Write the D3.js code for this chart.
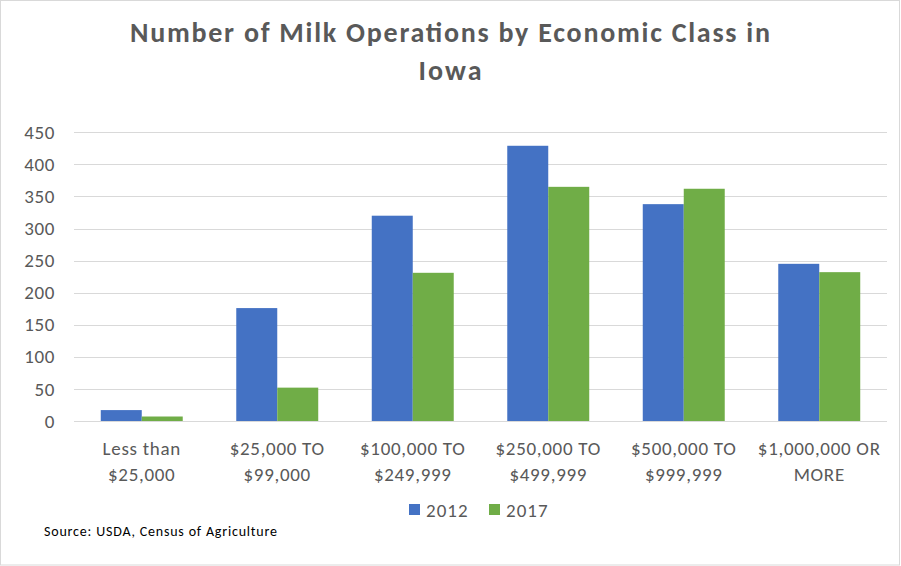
<!DOCTYPE html>
<html><head><meta charset="utf-8">
<script src="https://cdn.jsdelivr.net/npm/d3@7"></script>
<style>body{margin:0;background:#fff;} text{font-family:Carlito,Lato,"Open Sans",sans-serif;}</style>
</head><body><svg id="c" width="901" height="566"></svg>
<script>
const categories = [["Less than","$25,000"],["$25,000 TO","$99,000"],["$100,000 TO","$249,999"],["$250,000 TO","$499,999"],["$500,000 TO","$999,999"],["$1,000,000 OR","MORE"]];
const seriesNames = ["2012","2017"];
const values2012 = [17,176,320,429,338,245];
const values2017 = [7,52,231,365,362,232];
const yTicks = [0,50,100,150,200,250,300,350,400,450];
const colors = ["#4472C4","#70AD47"];

const svg = d3.select("#c");
svg.append("rect").attr("x",0.5).attr("y",0.5).attr("width",899).attr("height",564.5).attr("fill","#fff").attr("stroke","#d9d9d9");

const pLeft=74, pRight=887, pTop=132.3, pBottom=421;
const x0 = d3.scaleBand().domain(d3.range(categories.length)).range([pLeft,pRight]).paddingInner(0.395).paddingOuter(0.1975);
const x1 = d3.scaleBand().domain(seriesNames).range([0,x0.bandwidth()]);
const y = d3.scaleLinear().domain([0,450]).range([pBottom,pTop]);

// gridlines
svg.append("g").selectAll("line").data(yTicks).join("line")
 .attr("x1",pLeft).attr("x2",pRight).attr("y1",d=>Math.round(y(d))+0.5).attr("y2",d=>Math.round(y(d))+0.5)
 .attr("stroke","#d9d9d9").attr("stroke-width",1);

// y axis labels
const yAxis = d3.axisLeft(y).tickValues(yTicks).tickSize(0).tickPadding(0);
const gy = svg.append("g").attr("transform",`translate(55,0)`).call(yAxis);
gy.select(".domain").remove();
gy.selectAll("text").attr("fill","#595959").style("font-size","19px").style("letter-spacing","0.6px").style("font-family","Carlito,Lato,sans-serif");

// bars
const data = categories.map((c,i)=>({i, vals:[values2012[i],values2017[i]]}));
const g = svg.append("g").selectAll("g").data(data).join("g").attr("transform",d=>`translate(${x0(d.i)},0)`);
g.selectAll("rect").data(d=>d.vals.map((v,k)=>({k,v}))).join("rect")
 .attr("x",d=>x1(seriesNames[d.k])).attr("width",x1.bandwidth())
 .attr("y",d=>y(d.v)).attr("height",d=>y(0)-y(d.v)).attr("fill",d=>colors[d.k]);

// x labels
const xl = svg.append("g").selectAll("text").data(categories).join("text")
 .attr("x",(d,i)=>x0(i)+x0.bandwidth()/2).attr("text-anchor","middle")
 .attr("fill","#595959").style("font-size","19px").style("letter-spacing","0.7px");
xl.each(function(d){
  const t=d3.select(this);
  d.forEach((line,j)=>t.append("tspan").attr("x",t.attr("x")).attr("y",455+j*26).text(line));
});

// title
const title = svg.append("g").attr("fill","#595959").style("font-size","28px").style("font-weight","bold");
title.append("text").attr("x",450).attr("y",42).attr("text-anchor","middle").attr("textLength",640).attr("lengthAdjust","spacing").text("Number of Milk Operations by Economic Class in");
title.append("text").attr("x",450).attr("y",80).attr("text-anchor","middle").attr("textLength",63).attr("lengthAdjust","spacing").text("Iowa");

// legend
const legX=[409,489];
const lg = svg.append("g").selectAll("g").data(seriesNames).join("g").attr("transform",(d,i)=>`translate(${legX[i]},0)`);
lg.append("rect").attr("x",0).attr("y",504).attr("width",11).attr("height",11).attr("fill",(d,i)=>colors[i]);
lg.append("text").attr("x",17).attr("y",516.5).attr("fill","#595959").style("font-size","19px").style("letter-spacing","1px").text(d=>d);

// source
svg.append("text").attr("x",44).attr("y",536).attr("fill","#000").style("font-size","14px").attr("textLength",233).attr("lengthAdjust","spacing").text("Source:  USDA, Census of Agriculture");
</script></body></html>
